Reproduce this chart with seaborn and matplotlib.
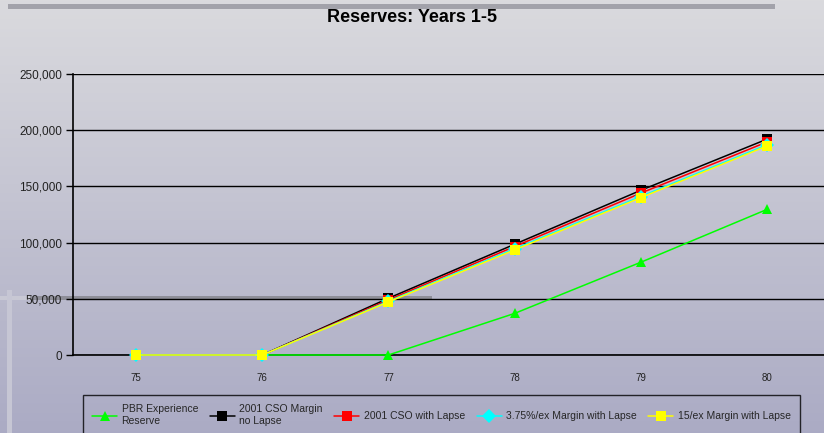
"""
Reserves: Years 1-5 -- recreation of a slide chart.
"""
import numpy as np
import pandas as pd
import matplotlib
matplotlib.use('Agg')
import matplotlib.pyplot as plt
from matplotlib.patches import Rectangle
import seaborn as sns

# ── DATA ──────────────────────────────────────────────
years = [75, 76, 77, 78, 79, 80]
pbr_reserve = [0, 0, 0, 37000, 82500, 129500]
cso_no_lapse = [0, 0, 50500, 98500, 146500, 192000]
cso_lapse = [0, 0, 49000, 96500, 144000, 189500]
margin_375 = [0, 0, 47800, 94500, 141000, 187000]
margin_15 = [0, 0, 47200, 93500, 140000, 186000]

series_names = ['PBR Experience\nReserve', '2001 CSO Margin\nno Lapse',
                '2001 CSO with Lapse', '3.75%/ex Margin with Lapse',
                '15/ex Margin with Lapse']
series_values = [pbr_reserve, cso_no_lapse, cso_lapse, margin_375, margin_15]
colors = ['#00ff00', '#000000', '#ff0000', '#00ffff', '#ffff00']
markers = ['^', 's', 's', 'D', 's']
y_ticks = [0, 50000, 100000, 150000, 200000, 250000]

df = pd.DataFrame([
    {'year': yr, 'reserve': v, 'series': name}
    for name, vals in zip(series_names, series_values)
    for yr, v in zip(years, vals)
])

sns.set_theme(style='white')
plt.rcParams['font.family'] = ['Liberation Sans Narrow', 'Liberation Sans', 'DejaVu Sans']

fig = plt.figure(figsize=(8.24, 4.33), dpi=100)

# slide background gradient
bg = fig.add_axes([0, 0, 1, 1], zorder=-2)
grad = np.linspace(0, 1, 256)[:, None, None]
top = np.array([0.855, 0.855, 0.87])
bot = np.array([0.67, 0.67, 0.77])
bg.imshow(top + (bot - top) * grad, aspect='auto', extent=[0, 1, 0, 1])
bg.set_xlim(0, 1)
bg.set_ylim(0, 1)
bg.axis('off')
# slide decorations
bg.add_patch(Rectangle((8 / 824, 1 - 9 / 433), 767 / 824, 5 / 433, color='#a2a2aa', lw=0))
bg.add_patch(Rectangle((30 / 824, 1 - 300 / 433), 402 / 824, 4 / 433, color='#8e8e98', lw=0))
bg.add_patch(Rectangle((0, 1 - 300 / 433), 30 / 824, 4 / 433, color='#c8c8d4', lw=0))
bg.add_patch(Rectangle((7 / 824, 0), 5 / 824, 1 - 290 / 433, color='#c6c6d4', lw=0))

ax = fig.add_axes([73 / 824, 1 - 355 / 433, 1 - 73 / 824, (355 - 74) / 433])
ax.set_facecolor('none')

sns.lineplot(data=df, x='year', y='reserve', hue='series', style='series',
             hue_order=series_names, style_order=series_names,
             palette=dict(zip(series_names, colors)),
             markers=dict(zip(series_names, markers)), dashes=False,
             linewidth=1.1, markersize=7, markeredgewidth=0, ax=ax, legend=True)
for line in ax.lines:
    line.set_clip_on(False)
    line.set_zorder(3)

ax.set_xlim(74.5, 75 + (824 - 137) / 126)
ax.set_ylim(0, 250000)
ax.set_yticks(y_ticks)
ax.set_yticklabels([f'{v:,}' for v in y_ticks], fontsize=8.5, color='#222222')
ax.set_xticks(years)
ax.set_xticklabels([str(y) for y in years], fontsize=7, color='#222222')
ax.set_xticks([y + 0.5 for y in [74] + years[:-1]], minor=True)
ax.tick_params(axis='x', which='major', length=0, pad=13)
ax.tick_params(axis='x', which='minor', length=5, width=1, color='black', direction='out')
ax.tick_params(axis='y', length=5, width=1, color='black', direction='out', pad=3, left=True)
ax.set_xlabel('')
ax.set_ylabel('')
for yv in y_ticks:
    ax.axhline(yv, color='black', linewidth=1, zorder=0.5)
for side in ['top', 'right']:
    ax.spines[side].set_visible(False)
ax.spines['left'].set_color('black')
ax.spines['left'].set_linewidth(1.2)
ax.spines['bottom'].set_color('black')
ax.spines['bottom'].set_linewidth(1.2)

fig.text(0.5, 1 - 17 / 433, 'Reserves: Years 1-5', ha='center', va='center',
         fontsize=13, fontweight='bold', color='black')

handles, labels = ax.get_legend_handles_labels()
ax.get_legend().remove()
leg = fig.legend(handles, labels, loc='upper left', ncol=5, mode='expand',
                 bbox_to_anchor=(83 / 824, -0.05, 717 / 824, 1 - 395 / 433 + 0.05),
                 fontsize=7.5, frameon=True, fancybox=False, handlelength=2.4,
                 handletextpad=0.4, columnspacing=0.8, borderaxespad=0,
                 borderpad=0.9, labelspacing=0.6)
leg.get_frame().set_edgecolor('black')
leg.get_frame().set_facecolor('none')
leg.get_frame().set_linewidth(1)

fig.savefig('out.png', dpi=100)
